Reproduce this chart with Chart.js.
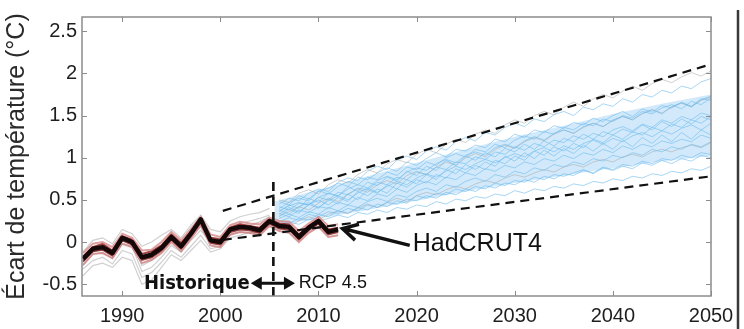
<!DOCTYPE html>
<html>
<head>
<meta charset="utf-8">
<script src="https://cdn.jsdelivr.net/npm/chart.js@4.4.1/dist/chart.umd.min.js"></script>
<style>
  html, body { margin: 0; padding: 0; background: #fff; }
  #wrap { position: relative; width: 744px; height: 329px; }
</style>
</head>
<body>
<div id="wrap"><canvas id="c" width="744" height="329"></canvas></div>
<script>
// ---- axes ----
const xTickValues = [1990, 2000, 2010, 2020, 2030, 2040, 2050];
const yTickValues = [-0.5, 0, 0.5, 1, 1.5, 2, 2.5];
const yTickLabels = ['-0.5', '0', '0.5', '1', '1.5', '2', '2.5'];

// ---- years ----
const obsYears  = Array.from({ length: 27 }, (_, i) => 1986 + i); // 1986-2012
const histYears = Array.from({ length: 20 }, (_, i) => 1986 + i); // 1986-2005
const projYears = Array.from({ length: 45 }, (_, i) => 2006 + i); // 2006-2050

// ---- observed anomaly, HadCRUT4 (°C) ----
const hadcrut4 = [-0.20, -0.08, -0.06, -0.13, 0.05, 0.00, -0.18, -0.15, -0.07, 0.06,
                  -0.05, 0.10, 0.27, 0.02, 0.00, 0.15, 0.18, 0.17, 0.14, 0.25,
                  0.19, 0.18, 0.06, 0.17, 0.25, 0.12, 0.15];

// ---- historical runs close to observations (red) ----
const red1 = [-0.13, -0.02, 0.00, -0.06, 0.10, 0.05, -0.10, -0.09, 0.00, 0.12, 0.02, 0.16, 0.30, 0.09, 0.06, 0.20, 0.24, 0.22, 0.21, 0.29, 0.25, 0.24, 0.13, 0.22, 0.30, 0.19, 0.21];
const red2 = [-0.27, -0.14, -0.13, -0.19, -0.02, -0.06, -0.25, -0.21, -0.13, 0.00, -0.11, 0.04, 0.20, -0.04, -0.06, 0.09, 0.12, 0.11, 0.08, 0.19, 0.13, 0.11, 0.00, 0.11, 0.18, 0.06, 0.08];
const red3 = [-0.17, -0.06, -0.02, -0.10, 0.07, 0.03, -0.14, -0.11, -0.04, 0.09, -0.01, 0.13, 0.24, 0.05, 0.03, 0.17, 0.21, 0.19, 0.17, 0.27, 0.22, 0.21, 0.09, 0.19, 0.27, 0.15, 0.17];
const red4 = [-0.23, -0.11, -0.09, -0.16, 0.02, -0.03, -0.21, -0.18, -0.10, 0.03, -0.08, 0.07, 0.23, -0.01, -0.03, 0.12, 0.15, 0.14, 0.11, 0.22, 0.16, 0.15, 0.03, 0.14, 0.22, 0.09, 0.12];

// ---- historical runs (grey) ----
const histGrey1 = [-0.32, -0.22, -0.18, -0.26, -0.10, -0.14, -0.42, -0.36, -0.24, -0.10, -0.18, -0.05, 0.08, -0.08, -0.05, 0.08, 0.12, 0.10, 0.14, 0.22];
const histGrey2 = [-0.12, 0.02, 0.05, -0.02, 0.15, 0.10, -0.05, 0.00, 0.08, 0.15, 0.05, 0.20, 0.32, 0.15, 0.12, 0.25, 0.30, 0.33, 0.35, 0.40];
const histGrey3 = [-0.40, -0.28, -0.25, -0.30, -0.18, -0.22, -0.50, -0.45, -0.30, -0.15, -0.22, -0.10, 0.02, -0.12, -0.08, 0.05, 0.08, 0.12, 0.10, 0.20];
const histGrey4 = [-0.22, -0.12, -0.08, -0.15, 0.02, 0.00, -0.28, -0.22, -0.12, 0.02, -0.05, 0.08, 0.18, 0.05, 0.05, 0.18, 0.22, 0.25, 0.28, 0.32];
const histGrey5 = [-0.28, -0.15, -0.12, -0.20, -0.02, -0.05, -0.35, -0.30, -0.18, -0.04, -0.12, 0.02, 0.14, 0.00, 0.02, 0.14, 0.18, 0.20, 0.24, 0.30];

// ---- RCP 4.5 runs (blue) ----
const rcp1 = [0.30, 0.39, 0.34, 0.45, 0.40, 0.51, 0.45, 0.57, 0.50, 0.62, 0.58, 0.68, 0.63, 0.74, 0.69,
              0.80, 0.74, 0.86, 0.81, 0.92, 0.86, 0.95, 0.90, 1.02, 0.96, 1.06, 0.99, 1.09, 1.02, 1.11,
              1.05, 1.15, 1.08, 1.17, 1.10, 1.21, 1.13, 1.24, 1.17, 1.27, 1.19, 1.30, 1.22, 1.33, 1.27];
const rcp2 = [0.40, 0.47, 0.52, 0.49, 0.60, 0.64, 0.70, 0.66, 0.77, 0.74, 0.82, 0.88, 0.84, 0.95, 0.91,
              0.99, 1.06, 1.01, 1.10, 1.08, 1.15, 1.12, 1.22, 1.19, 1.28, 1.24, 1.33, 1.30, 1.38, 1.35,
              1.42, 1.39, 1.47, 1.43, 1.50, 1.55, 1.49, 1.58, 1.54, 1.62, 1.59, 1.66, 1.61, 1.70, 1.68];
const rcp3 = [0.25, 0.22, 0.28, 0.26, 0.33, 0.30, 0.37, 0.34, 0.41, 0.38, 0.45, 0.42, 0.49, 0.46, 0.55,
              0.52, 0.58, 0.56, 0.63, 0.60, 0.66, 0.63, 0.70, 0.67, 0.73, 0.71, 0.77, 0.74, 0.80, 0.78,
              0.82, 0.86, 0.81, 0.88, 0.85, 0.90, 0.87, 0.94, 0.91, 0.97, 0.93, 0.99, 0.96, 1.03, 1.00];
const rcp4 = [0.36, 0.44, 0.40, 0.52, 0.47, 0.58, 0.54, 0.66, 0.60, 0.71, 0.67, 0.77, 0.72, 0.84, 0.79,
              0.90, 0.85, 0.97, 0.91, 1.02, 0.97, 1.06, 1.01, 1.11, 1.07, 1.16, 1.10, 1.20, 1.14, 1.23,
              1.19, 1.28, 1.22, 1.31, 1.27, 1.34, 1.30, 1.39, 1.33, 1.43, 1.37, 1.46, 1.40, 1.49, 1.45];
const rcp5 = [0.34, 0.30, 0.38, 0.35, 0.42, 0.40, 0.47, 0.44, 0.53, 0.49, 0.57, 0.54, 0.63, 0.59, 0.67,
              0.72, 0.68, 0.77, 0.74, 0.82, 0.79, 0.87, 0.84, 0.91, 0.88, 0.95, 0.92, 0.99, 0.96, 1.03,
              0.99, 1.06, 1.03, 1.10, 1.06, 1.14, 1.10, 1.16, 1.13, 1.20, 1.17, 1.22, 1.19, 1.27, 1.23];
const rcp6 = [0.45, 0.52, 0.49, 0.58, 0.63, 0.60, 0.71, 0.76, 0.73, 0.84, 0.90, 0.86, 0.97, 1.02, 0.98,
              1.08, 1.13, 1.09, 1.19, 1.24, 1.20, 1.30, 1.27, 1.36, 1.41, 1.37, 1.46, 1.43, 1.51, 1.55,
              1.50, 1.60, 1.57, 1.64, 1.61, 1.70, 1.66, 1.75, 1.72, 1.80, 1.77, 1.85, 1.82, 1.90, 1.94];
const rcp7 = [0.20, 0.24, 0.21, 0.27, 0.25, 0.28, 0.32, 0.29, 0.35, 0.33, 0.38, 0.35, 0.41, 0.39, 0.44,
              0.42, 0.48, 0.45, 0.51, 0.49, 0.54, 0.52, 0.57, 0.55, 0.61, 0.58, 0.63, 0.61, 0.66, 0.64,
              0.69, 0.67, 0.72, 0.70, 0.75, 0.73, 0.78, 0.76, 0.81, 0.79, 0.84, 0.82, 0.87, 0.85, 0.90];
const rcp8 = [0.38, 0.33, 0.42, 0.47, 0.41, 0.49, 0.55, 0.50, 0.58, 0.64, 0.59, 0.66, 0.72, 0.68, 0.76,
              0.81, 0.77, 0.84, 0.90, 0.86, 0.93, 0.98, 0.94, 1.00, 1.05, 1.01, 1.08, 1.12, 1.07, 1.14,
              1.10, 1.17, 1.21, 1.16, 1.23, 1.19, 1.26, 1.30, 1.25, 1.32, 1.28, 1.35, 1.39, 1.33, 1.41];
const rcp9 = [0.42, 0.38, 0.46, 0.44, 0.53, 0.50, 0.59, 0.56, 0.64, 0.62, 0.71, 0.68, 0.77, 0.74, 0.83,
              0.80, 0.89, 0.86, 0.95, 0.93, 1.01, 0.98, 1.07, 1.04, 1.13, 1.09, 1.17, 1.13, 1.21, 1.18,
              1.26, 1.22, 1.29, 1.25, 1.33, 1.37, 1.32, 1.40, 1.36, 1.45, 1.41, 1.49, 1.45, 1.53, 1.50];
const rcp10 = [0.28, 0.33, 0.29, 0.36, 0.33, 0.41, 0.37, 0.44, 0.41, 0.48, 0.52, 0.48, 0.56, 0.53, 0.60,
               0.64, 0.60, 0.68, 0.65, 0.72, 0.76, 0.72, 0.80, 0.77, 0.84, 0.81, 0.88, 0.85, 0.92, 0.89,
               0.95, 0.92, 0.99, 0.96, 1.03, 1.00, 1.06, 1.03, 1.10, 1.07, 1.13, 1.10, 1.16, 1.13, 1.19];
const rcp11 = [0.48, 0.44, 0.55, 0.51, 0.61, 0.57, 0.66, 0.72, 0.68, 0.77, 0.74, 0.83, 0.79, 0.89, 0.86,
               0.95, 0.91, 1.00, 1.05, 1.01, 1.10, 1.07, 1.16, 1.12, 1.21, 1.26, 1.22, 1.31, 1.28, 1.36,
               1.33, 1.41, 1.38, 1.46, 1.43, 1.50, 1.47, 1.55, 1.52, 1.59, 1.63, 1.58, 1.67, 1.63, 1.71];
const rcp12 = [0.24, 0.29, 0.26, 0.33, 0.30, 0.36, 0.34, 0.40, 0.37, 0.44, 0.41, 0.47, 0.45, 0.51, 0.49,
               0.55, 0.52, 0.59, 0.56, 0.63, 0.60, 0.67, 0.64, 0.70, 0.68, 0.74, 0.71, 0.78, 0.75, 0.81,
               0.79, 0.85, 0.82, 0.89, 0.86, 0.92, 0.90, 0.96, 0.93, 0.99, 0.97, 1.03, 1.00, 1.06, 1.04];
const rcp13 = [0.33, 0.41, 0.36, 0.44, 0.50, 0.44, 0.53, 0.48, 0.60, 0.55, 0.63, 0.58, 0.70, 0.65, 0.74,
               0.70, 0.80, 0.76, 0.87, 0.82, 0.91, 0.86, 0.97, 0.93, 1.02, 0.97, 1.08, 1.03, 1.13, 1.08,
               1.17, 1.12, 1.22, 1.18, 1.27, 1.22, 1.31, 1.27, 1.36, 1.32, 1.40, 1.36, 1.45, 1.41, 1.49];
const rcp14 = [0.37, 0.43, 0.47, 0.44, 0.53, 0.58, 0.55, 0.63, 0.68, 0.64, 0.73, 0.78, 0.74, 0.83, 0.88,
               0.85, 0.93, 0.98, 0.94, 1.03, 1.07, 1.03, 1.12, 1.16, 1.12, 1.20, 1.25, 1.21, 1.29, 1.33,
               1.29, 1.37, 1.41, 1.37, 1.45, 1.49, 1.45, 1.53, 1.57, 1.52, 1.61, 1.65, 1.60, 1.69, 1.73];

// ---- RCP 4.5 runs (grey) ----
const projGrey1 = [0.50, 0.47, 0.58, 0.62, 0.57, 0.68, 0.74, 0.70, 0.80, 0.86, 0.82, 0.93, 0.98, 0.94, 1.04,
                   1.10, 1.06, 1.16, 1.22, 1.18, 1.28, 1.33, 1.29, 1.39, 1.45, 1.41, 1.50, 1.55, 1.51, 1.60,
                   1.66, 1.61, 1.70, 1.75, 1.71, 1.79, 1.85, 1.80, 1.88, 1.93, 1.89, 1.96, 2.01, 1.97, 2.03];
const projGrey2 = [0.31, 0.36, 0.42, 0.38, 0.46, 0.52, 0.48, 0.57, 0.63, 0.59, 0.68, 0.73, 0.69, 0.79, 0.84,
                   0.80, 0.89, 0.95, 0.91, 1.00, 1.05, 1.01, 1.10, 1.15, 1.11, 1.19, 1.24, 1.20, 1.28, 1.33,
                   1.29, 1.36, 1.41, 1.37, 1.44, 1.49, 1.45, 1.52, 1.57, 1.53, 1.60, 1.65, 1.61, 1.68, 1.72];
const projGrey3 = [0.22, 0.19, 0.25, 0.30, 0.26, 0.33, 0.37, 0.34, 0.40, 0.45, 0.41, 0.47, 0.52, 0.48, 0.55,
                   0.59, 0.56, 0.62, 0.66, 0.63, 0.69, 0.73, 0.70, 0.76, 0.80, 0.77, 0.82, 0.86, 0.83, 0.89,
                   0.92, 0.89, 0.95, 0.98, 0.95, 1.01, 1.04, 1.01, 1.07, 1.10, 1.07, 1.12, 1.15, 1.12, 1.18];

// ---- dense core of the RCP 4.5 spread ----
const bandYears = [2005.5, 2010, 2015, 2020, 2025, 2030, 2035, 2040, 2045, 2050];
const bandHigh  = [0.48, 0.62, 0.78, 0.94, 1.10, 1.25, 1.38, 1.52, 1.64, 1.75];
const bandLow   = [0.20, 0.28, 0.38, 0.49, 0.60, 0.70, 0.79, 0.88, 0.96, 1.02];

// ---- dashed envelope lines and the historical / RCP boundary ----
const envYears  = [2000.25, 2050];
const envUpper  = [0.37, 2.11];
const envLower  = [0.025, 0.78];
const splitYear = [2005.4, 2005.4];
const splitSpan = [-0.64, 0.75];

const pts = (xs, ys) => ys.map((v, i) => ({ x: xs[i], y: v }));

const line = (data, color, width, order, extra = {}) => Object.assign({
  data, borderColor: color, borderWidth: width, pointRadius: 0,
  fill: false, tension: 0, order
}, extra);

const BLUE = 'rgba(110,186,236,0.6)';
const GREY = 'rgba(170,170,170,0.55)';

const datasets = [
  line(pts(obsYears, hadcrut4), '#150808', 4.5, 0, { borderJoinStyle: 'round' }),
  line(pts(envYears, envUpper), '#111', 2.2, 1, { borderDash: [9, 6] }),
  line(pts(envYears, envLower), '#111', 2.2, 1, { borderDash: [9, 6] }),
  line(pts(splitYear, splitSpan), '#111', 2.6, 1, { borderDash: [9, 6] }),
  line(pts(obsYears, red1), 'rgba(215,135,135,0.8)', 2, 2),
  line(pts(obsYears, red2), 'rgba(205,125,125,0.8)', 2, 2),
  line(pts(obsYears, red3), 'rgba(140,20,20,0.8)', 2, 2),
  line(pts(obsYears, red4), 'rgba(120,15,15,0.8)', 2, 2),
  ...[rcp1, rcp2, rcp3, rcp4, rcp5, rcp6, rcp7, rcp8, rcp9, rcp10, rcp11, rcp12, rcp13, rcp14]
      .map(s => line(pts(projYears, s), BLUE, 1, 3)),
  ...[projGrey1, projGrey2, projGrey3]
      .map(s => line(pts(projYears, s), GREY, 1, 4)),
  ...[histGrey1, histGrey2, histGrey3, histGrey4, histGrey5]
      .map(s => line(pts(histYears, s), GREY, 1.2, 4)),
  line(pts(bandYears, bandLow), 'rgba(0,0,0,0)', 0, 5),
  line(pts(bandYears, bandHigh), 'rgba(0,0,0,0)', 0, 5,
       { fill: '-1', backgroundColor: 'rgba(140,200,242,0.4)' })
];

// Frame with inward tick marks, plus the text annotations and arrows.
const decorations = {
  id: 'decorations',
  afterDatasetsDraw(chart) {
    const { ctx, chartArea: a, scales: { x, y } } = chart;
    const X = v => x.getPixelForValue(v);
    const Y = v => y.getPixelForValue(v);
    ctx.save();

    // frame
    ctx.strokeStyle = '#8c8c8c';
    ctx.lineWidth = 1.5;
    ctx.strokeRect(a.left, a.top, a.right - a.left, a.bottom - a.top);
    ctx.lineWidth = 1;
    ctx.beginPath();
    x.ticks.forEach(t => {
      const p = Math.round(X(t.value)) + 0.5;
      ctx.moveTo(p, a.bottom); ctx.lineTo(p, a.bottom - 5);
      ctx.moveTo(p, a.top);    ctx.lineTo(p, a.top + 5);
    });
    y.ticks.forEach(t => {
      const p = Math.round(Y(t.value)) + 0.5;
      ctx.moveTo(a.left, p);  ctx.lineTo(a.left + 5, p);
      ctx.moveTo(a.right, p); ctx.lineTo(a.right - 5, p);
    });
    ctx.stroke();

    ctx.fillStyle = '#111';
    ctx.strokeStyle = '#111';

    // arrow pointing at the HadCRUT4 curve
    const tipX = X(2012.45), tipY = Y(0.16);
    const tailX = X(2019.3), tailY = Y(-0.04);
    const ang = Math.atan2(tailY - tipY, tailX - tipX);
    ctx.lineWidth = 3.5;
    ctx.lineCap = 'butt';
    ctx.beginPath();
    ctx.moveTo(tailX, tailY); ctx.lineTo(tipX, tipY);
    ctx.moveTo(tipX + 17 * Math.cos(ang - 0.5), tipY + 17 * Math.sin(ang - 0.5));
    ctx.lineTo(tipX, tipY);
    ctx.lineTo(tipX + 17 * Math.cos(ang + 0.5), tipY + 17 * Math.sin(ang + 0.5));
    ctx.stroke();

    ctx.font = '25px "Liberation Sans", Arial, sans-serif';
    ctx.textAlign = 'left';
    ctx.textBaseline = 'middle';
    ctx.fillText('HadCRUT4', X(2019.6), Y(-0.02));

    // double arrow between the two periods
    const cy = Y(-0.49);
    const lx = X(2003.1), rx = X(2007.6);
    ctx.lineWidth = 3;
    ctx.beginPath();
    ctx.moveTo(lx + 6, cy); ctx.lineTo(rx - 6, cy);
    ctx.stroke();
    ctx.beginPath();
    ctx.moveTo(lx, cy); ctx.lineTo(lx + 11, cy - 6.5); ctx.lineTo(lx + 11, cy + 6.5); ctx.closePath();
    ctx.moveTo(rx, cy); ctx.lineTo(rx - 11, cy - 6.5); ctx.lineTo(rx - 11, cy + 6.5); ctx.closePath();
    ctx.fill();

    ctx.font = 'bold 20px "Liberation Sans Narrow", "DejaVu Sans Condensed", "Liberation Sans", sans-serif';
    ctx.textAlign = 'right';
    ctx.fillText('Historique', lx - 1, cy);
    ctx.font = '18px "Liberation Sans", Arial, sans-serif';
    ctx.textAlign = 'left';
    ctx.fillText('RCP 4.5', X(2008.0), cy);

    ctx.restore();
  },
  afterDraw(chart) {
    // edge of the neighbouring panel on the right
    const { ctx } = chart;
    ctx.save();
    ctx.strokeStyle = '#3a3a3a';
    ctx.lineWidth = 2.5;
    ctx.beginPath();
    ctx.moveTo(738, 10); ctx.lineTo(738, 329);
    ctx.stroke();
    ctx.restore();
  }
};

new Chart(document.getElementById('c'), {
  type: 'line',
  data: { datasets },
  options: {
    responsive: false,
    devicePixelRatio: 1,
    animation: false,
    layout: { padding: { left: 0, top: 15, right: 33, bottom: 0 } },
    plugins: { legend: { display: false }, tooltip: { enabled: false } },
    scales: {
      x: {
        type: 'linear',
        min: 1985.9,
        max: 2050,
        afterBuildTicks: s => { s.ticks = xTickValues.map(v => ({ value: v })); },
        afterFit: s => { s.height = 33; },
        grid: { display: false, drawTicks: false },
        border: { display: false },
        ticks: {
          autoSkip: false, maxRotation: 0, padding: 8,
          color: '#1e1e1e',
          font: { family: '"Liberation Sans", Arial, sans-serif', size: 20 },
          callback: v => String(v)
        }
      },
      y: {
        type: 'linear',
        min: -0.64,
        max: 2.67,
        afterBuildTicks: s => { s.ticks = yTickValues.map(v => ({ value: v })); },
        afterFit: s => { s.width = 82; },
        grid: { display: false, drawTicks: false },
        border: { display: false },
        ticks: {
          padding: 5,
          color: '#1e1e1e',
          font: { family: '"Liberation Sans", Arial, sans-serif', size: 20 },
          callback: (v, i) => yTickLabels[i]
        },
        title: {
          display: true,
          text: 'Écart de température (°C)',
          color: '#2a2a2a',
          font: { family: '"Liberation Sans", Arial, sans-serif', size: 25 },
          padding: { top: 2, bottom: 0 }
        }
      }
    }
  },
  plugins: [decorations]
});
</script>
</body>
</html>
